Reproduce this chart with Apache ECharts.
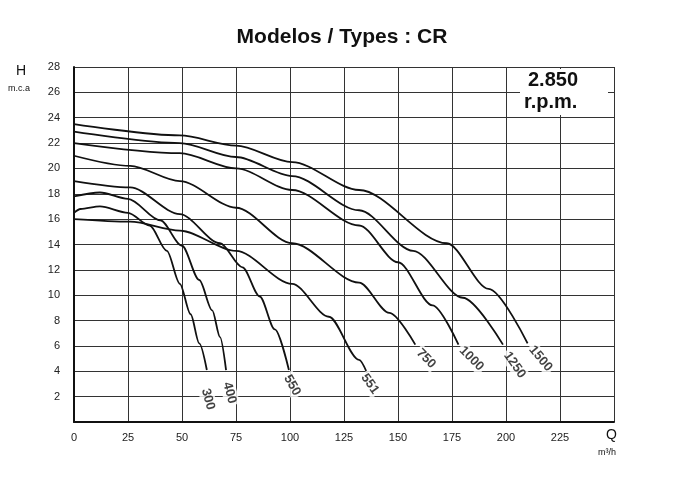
<!DOCTYPE html>
<html><head><meta charset="utf-8">
<script src="https://cdn.jsdelivr.net/npm/echarts@6/dist/echarts.min.js"></script>
<style>html,body{margin:0;background:#fff}#main{width:684px;height:494px}</style>
</head><body><div id="main"></div>
<script>
// curvas Q (m3/h) / H (m.c.a)
var names = ['300', '400', '550', '551', '750', '1000', '1250', '1500'];
var c300 = [[0, 16.5], [3, 16.8], [12, 17.0], [25, 16.5], [35, 15.5], [43, 13.5], [49, 10.9], [54, 8.5], [58, 6.2], [61.5, 4.1]];
var c400 = [[0, 17.8], [12, 18.1], [25, 17.6], [40, 15.9], [50, 13.9], [58, 11.2], [64, 8.8], [67.6, 6.7], [70.4, 4.1]];
var c550 = [[0, 19.0], [26, 18.5], [49, 16.4], [67.6, 14.1], [78, 12.2], [86, 9.9], [93, 7.3], [99.5, 4.1]];
var c551 = [[0, 16.0], [26, 15.8], [49, 15.1], [75, 13.5], [101, 10.9], [118, 8.3], [132, 4.9], [135.6, 3.9]];
var c750 = [[0, 21.0], [26, 20.2], [49, 19.0], [75, 16.9], [101, 14.1], [132, 11.0], [146, 8.6], [158, 6.1]];
var c1000 = [[0, 22.0], [49, 21.2], [75, 20.0], [101, 18.3], [132, 15.5], [150, 12.6], [166, 9.2], [178, 6.1]];
var c1250 = [[0, 22.9], [49, 22.0], [75, 20.9], [101, 19.4], [132, 16.7], [157, 13.5], [180, 9.8], [198.6, 6.1]];
var c1500 = [[0, 23.5], [49, 22.6], [75, 21.8], [101, 20.5], [132, 18.3], [172.6, 14.1], [192, 10.5], [210, 6.2]];
var curves = [c300, c400, c550, c551, c750, c1000, c1250, c1500];
// posicion de las etiquetas
var labelPts = [[62, 1.8], [72, 2.3], [101, 2.9], [137, 3.0], [163, 5.0], [184, 5.0], [204, 4.5], [216, 5.0]];
var labelRot = [-75, -75, -60, -55, -45, -45, -55, -50];
var xTicks = [0, 25, 50, 75, 100, 125, 150, 175, 200, 225];
var yTicks = [2, 4, 6, 8, 10, 12, 14, 16, 18, 20, 22, 24, 26, 28];

var myChart = echarts.init(document.getElementById('main'));
var series = [];
for (var i = 0; i < curves.length; i++) {
	series.push({
		type: 'line', data: curves[i], smooth: 0.3, smoothMonotone: 'x', showSymbol: false, silent: true,
		lineStyle: { color: '#111', width: 1.8 }
	});
}
series.push({
	type: 'scatter', symbolSize: 0, silent: true, z: 5,
	data: labelPts.map(function (p, i) {
		return {
			value: p,
			label: {
				show: true, position: 'inside', formatter: names[i], rotate: labelRot[i],
				color: '#111', fontWeight: 'bold', fontSize: 13, fontFamily: 'Liberation Sans',
				backgroundColor: '#fff', padding: [1, 2]
			}
		};
	})
});
var option = {
	animation: false,
	title: {
		text: 'Modelos / Types : CR', left: 'center', top: 22,
		textStyle: { fontSize: 21, fontWeight: 'bold', color: '#111', fontFamily: 'Liberation Sans' }
	},
	grid: { left: 74, right: 70, top: 67, bottom: 72 },
	xAxis: {
		type: 'value', min: 0, max: 250, interval: 25,
		axisLine: { lineStyle: { color: '#111', width: 2 } }, axisTick: { show: false },
		splitLine: { lineStyle: { color: '#333', width: 1 } },
		axisLabel: {
			color: '#222', fontSize: 11, fontFamily: 'Liberation Sans', margin: 10,
			formatter: function (v) { return xTicks.indexOf(v) >= 0 ? String(v) : ''; }
		}
	},
	yAxis: {
		type: 'value', min: 0, max: 28, interval: 2,
		axisLine: { show: true, lineStyle: { color: '#111', width: 2 } }, axisTick: { show: false },
		splitLine: { lineStyle: { color: '#333', width: 1 } },
		axisLabel: {
			color: '#222', fontSize: 11, fontFamily: 'Liberation Sans', margin: 14,
			formatter: function (v) { return yTicks.indexOf(v) >= 0 ? String(v) : ''; }
		}
	},
	graphic: [
		{ type: 'text', left: 16, top: 64, style: { text: 'H', fontSize: 14, fill: '#111', fontFamily: 'Liberation Sans' } },
		{ type: 'text', left: 8, top: 84, style: { text: 'm.c.a', fontSize: 9, fill: '#111', fontFamily: 'Liberation Sans' } },
		{ type: 'text', left: 606, top: 428, style: { text: 'Q', fontSize: 14, fill: '#111', fontFamily: 'Liberation Sans' } },
		{ type: 'text', left: 598, top: 448, style: { text: 'm³/h', fontSize: 9, fill: '#111', fontFamily: 'Liberation Sans' } },
		{ type: 'rect', z: 100, left: 520, top: 69, shape: { width: 88, height: 46 }, style: { fill: '#fff' } },
		{ type: 'text', z: 101, left: 528, top: 70, style: { text: '2.850', fontSize: 20, fontWeight: 'bold', fill: '#111', fontFamily: 'Liberation Sans' } },
		{ type: 'text', z: 101, left: 524, top: 92, style: { text: 'r.p.m.', fontSize: 20, fontWeight: 'bold', fill: '#111', fontFamily: 'Liberation Sans' } }
	],
	series: series
};
myChart.setOption(option);
</script>
</body></html>
